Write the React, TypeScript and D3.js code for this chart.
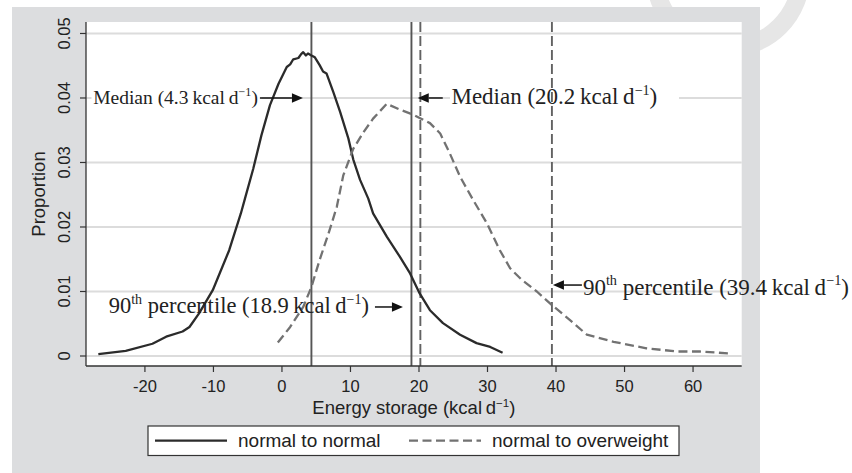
import * as d3 from 'd3'

// values (energy storage, kcal/day vs proportion)
const normalX = [-26.8, -22.8, -18.9, -16.9, -14.5, -13.5, -12.1, -10.1, -7.7, -6.0, -5.4, -4.2, -3.0, -1.75, -0.5, 0.7, 1.2, 1.65, 2.4, 2.8, 3.1, 3.5, 3.8, 4.3, 4.8, 5.5, 6.0, 6.5, 7.5, 8.5, 9.7, 10.4, 11.4, 12.6, 13.3, 15.3, 17.2, 18.7, 20.1, 21.6, 23.5, 26.0, 28.4, 30.4, 32.2]
const normalY = [0.0003, 0.0008, 0.0019, 0.003, 0.0038, 0.0045, 0.0066, 0.0102, 0.0164, 0.0221, 0.0244, 0.029, 0.0342, 0.0389, 0.0422, 0.0448, 0.0452, 0.046, 0.0462, 0.0468, 0.0471, 0.0466, 0.0469, 0.0466, 0.0463, 0.0451, 0.0441, 0.0438, 0.0409, 0.0378, 0.0337, 0.0305, 0.0273, 0.0244, 0.0221, 0.0185, 0.0154, 0.0128, 0.0097, 0.0071, 0.0051, 0.0033, 0.002, 0.0014, 0.0005]

const overX = [-0.6, 1.2, 3.1, 4.3, 5.5, 6.8, 8.0, 8.95, 10.4, 11.9, 13.3, 15.3, 17.2, 19.2, 20.1, 21.6, 23.1, 24.5, 26.0, 27.9, 29.9, 31.8, 33.3, 35.0, 37.2, 39.4, 42.0, 44.5, 48.4, 53.2, 57.6, 61.0, 65.2]
const overY = [0.0021, 0.0045, 0.0076, 0.0107, 0.0149, 0.019, 0.0231, 0.028, 0.0321, 0.0347, 0.0368, 0.0391, 0.0382, 0.0374, 0.0369, 0.0361, 0.0345, 0.0314, 0.0278, 0.0242, 0.0206, 0.0164, 0.0136, 0.0118, 0.01, 0.0079, 0.0056, 0.0033, 0.0022, 0.0012, 0.0007, 0.0007, 0.0004]

const seriesNames = ['normal to normal', 'normal to overweight']

// medians and 90th percentiles per series
const refValues = [4.3, 18.9, 20.2, 39.4]
const refSeries = [0, 0, 1, 1]
const refLabels = ['Median (4.3', '90|th| percentile (18.9', 'Median (20.2', '90|th| percentile (39.4']

const xTicks = [-20, -10, 0, 10, 20, 30, 40, 50, 60]
const yTicks = [0, 0.01, 0.02, 0.03, 0.04, 0.05]
const yTickLabels = ['0', '0.01', '0.02', '0.03', '0.04', '0.05']

const W = 852
const H = 473
const PLOT = { left: 86, right: 741.7, top: 22, bottom: 366 }

const SANS = '"Liberation Sans", Arial, Helvetica, sans-serif'
const SERIF = '"Liberation Serif", "Times New Roman", serif'

const SERIES_STYLE = [
  { stroke: '#2b2b2b', dash: undefined as string | undefined, ref: '#555555' },
  { stroke: '#727272', dash: '9 4.5', ref: '#626262' },
]

// where each annotation sits: level (data units), side of the line, gaps in px
const ANNO = [
  { level: 0.04, side: 'left', gap: 8.5, len: 43, textGap: 2, fs: 19.5, base: 6.5 },
  { level: 0.0076, side: 'left', gap: 8.5, len: 28, textGap: 6, fs: 22.5, base: 6 },
  { level: 0.04, side: 'right', gap: -2.6, len: 25, textGap: 8.7, fs: 23, base: 6.5 },
  { level: 0.011, side: 'right', gap: 1, len: 29, textGap: 1, fs: 23, base: 10 },
]

function Label({ x, y, text, fs, anchor }: { x: number; y: number; text: string; fs: number; anchor: string }) {
  const parts = text.split('|')
  const sup = fs * 0.62
  const raise = fs * 0.42
  const tail = [
    { t: '\u2009kcal\u2009d', s: false },
    { t: '\u22121', s: true },
    { t: ')', s: false },
  ]
  const segs = [...parts.map((t, i) => ({ t, s: i % 2 === 1 })), ...tail]
  let up = false
  return (
    <text x={x} y={y} fontFamily={SERIF} fontSize={fs} fill="#222" textAnchor={anchor}>
      {segs.map((seg, i) => {
        let dy = 0
        if (seg.s && !up) { dy = -raise; up = true }
        else if (!seg.s && up) { dy = raise; up = false }
        return (
          <tspan key={i} dy={dy} fontSize={seg.s ? sup : fs}>
            {seg.t}
          </tspan>
        )
      })}
    </text>
  )
}

export default function App() {
  const x = d3.scaleLinear().domain([-28.6, 67.1]).range([PLOT.left, PLOT.right])
  const y = d3.scaleLinear().domain([-0.00155, 0.05178]).range([PLOT.bottom, PLOT.top])

  const line = d3
    .line<[number, number]>()
    .x((d) => x(d[0]))
    .y((d) => y(d[1]))
    .curve(d3.curveLinear)

  const series = [
    normalX.map((v, i) => [v, normalY[i]] as [number, number]),
    overX.map((v, i) => [v, overY[i]] as [number, number]),
  ]

  const plotW = PLOT.right - PLOT.left

  return (
    <svg
      width={W}
      height={H}
      viewBox={`0 0 ${W} ${H}`}
      style={{ position: 'absolute', left: 0, top: 0, background: '#fff' }}
    >
      {/* faint watermark ring behind the panel */}
      <circle cx={728} cy={-25} r={73} fill="none" stroke="#e6e6e6" strokeWidth={18} />

      <rect x={12} y={7} width={748} height={H - 7} fill="#dcdddf" />
      <rect x={PLOT.left} y={PLOT.top} width={plotW} height={PLOT.bottom - PLOT.top} fill="#fff" />

      {yTicks.map((t) => (
        <line key={t} x1={PLOT.left} x2={PLOT.right} y1={y(t)} y2={y(t)} stroke="#dcdcdc" strokeWidth={1.8} />
      ))}

      {/* white boxes behind the median labels */}
      <rect x={91.5} y={84} width={170} height={26} fill="#fff" />
      <rect x={450} y={84} width={229} height={27} fill="#fff" />

      {refValues.map((v, i) => (
        <line
          key={i}
          x1={x(v)}
          x2={x(v)}
          y1={PLOT.top}
          y2={PLOT.bottom}
          stroke={SERIES_STYLE[refSeries[i]].ref}
          strokeWidth={1.9}
          strokeDasharray={refSeries[i] === 1 ? '10 4' : undefined}
        />
      ))}

      {series.map((pts, i) => (
        <path
          key={i}
          d={line(pts) || ''}
          fill="none"
          stroke={SERIES_STYLE[i].stroke}
          strokeWidth={2.3}
          strokeDasharray={SERIES_STYLE[i].dash}
          strokeLinejoin="round"
        />
      ))}

      {refValues.map((v, i) => {
        const a = ANNO[i]
        const ay = y(a.level)
        const dir = a.side === 'left' ? -1 : 1
        const tip = x(v) + dir * a.gap
        const tailX = tip + dir * a.len
        const tx = tailX + dir * a.textGap
        const head = 11
        const base = tip + dir * head
        return (
          <g key={i}>
            <line x1={tailX} x2={base} y1={ay} y2={ay} stroke="#111" strokeWidth={1.5} />
            <polygon points={`${tip},${ay} ${base},${ay - 4.8} ${base},${ay + 4.8}`} fill="#111" />
            <Label x={tx} y={ay + a.base} text={refLabels[i]} fs={a.fs} anchor={a.side === 'left' ? 'end' : 'start'} />
          </g>
        )
      })}

      {/* axes */}
      <line x1={PLOT.left} x2={PLOT.left} y1={PLOT.top} y2={PLOT.bottom} stroke="#333" strokeWidth={1.3} />
      <line x1={PLOT.left} x2={PLOT.right} y1={PLOT.bottom} y2={PLOT.bottom} stroke="#333" strokeWidth={1.3} />

      {yTicks.map((t, i) => (
        <g key={t} transform={`translate(${PLOT.left}, ${y(t)})`}>
          <line x1={-6} x2={0} stroke="#333" strokeWidth={1.2} />
          <text
            transform="translate(-16, 0) rotate(-90)"
            textAnchor="middle"
            fontFamily={SANS}
            fontSize={16.5}
            fill="#222"
          >
            {yTickLabels[i]}
          </text>
        </g>
      ))}

      {xTicks.map((t) => (
        <g key={t} transform={`translate(${x(t)}, ${PLOT.bottom})`}>
          <line y1={0} y2={6} stroke="#333" strokeWidth={1.2} />
          <text y={26} textAnchor="middle" fontFamily={SANS} fontSize={16.5} fill="#222">
            {t}
          </text>
        </g>
      ))}

      <text
        transform={`translate(45, ${(PLOT.top + PLOT.bottom) / 2}) rotate(-90)`}
        textAnchor="middle"
        fontFamily={SANS}
        fontSize={18.5}
        fill="#222"
      >
        Proportion
      </text>

      <text x={(PLOT.left + PLOT.right) / 2} y={414} textAnchor="middle" fontFamily={SANS} fontSize={18.5} fill="#222">
        Energy storage (kcal{'\u2009'}d
        <tspan dy={-7} fontSize={11.5}>{'\u22121'}</tspan>
        <tspan dy={7}>)</tspan>
      </text>

      {/* legend */}
      <g>
        <rect x={148} y={426} width={531} height={29.5} fill="#fff" stroke="#333" strokeWidth={1.2} />
        {seriesNames.map((name, i) => {
          const lx = i === 0 ? 155 : 409
          return (
            <g key={name}>
              <line
                x1={lx}
                x2={lx + 72}
                y1={440.7}
                y2={440.7}
                stroke={SERIES_STYLE[i].stroke}
                strokeWidth={2.3}
                strokeDasharray={SERIES_STYLE[i].dash}
              />
              <text x={lx + 83} y={447.3} fontFamily={SANS} fontSize={19} fill="#222">
                {name}
              </text>
            </g>
          )
        })}
      </g>
    </svg>
  )
}
